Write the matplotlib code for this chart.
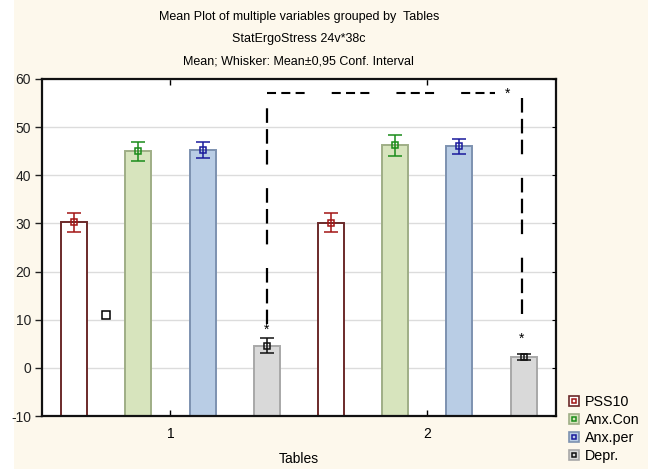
import matplotlib.pyplot as plt
import numpy as np
from matplotlib.lines import Line2D
from matplotlib.patches import Rectangle
from matplotlib.legend_handler import HandlerTuple

plt.rcParams['font.family'] = ['Liberation Sans', 'DejaVu Sans']
plt.rcParams['font.size'] = 9
plt.rcParams['lines.scale_dashes'] = False
plt.rcParams['axes.unicode_minus'] = False

# data
groups = ["1", "2"]
variables = ["PSS10", "Anx.Con", "Anx.per", "Depr."]
means = {
    "PSS10":   [30.3, 30.1],
    "Anx.Con": [45.0, 46.2],
    "Anx.per": [45.3, 46.0],
    "Depr.":   [4.6, 2.2],
}
ci_low = {
    "PSS10":   [28.3, 28.2],
    "Anx.Con": [43.0, 44.1],
    "Anx.per": [43.6, 44.5],
    "Depr.":   [3.0, 1.6],
}
ci_high = {
    "PSS10":   [32.2, 32.1],
    "Anx.Con": [47.0, 48.3],
    "Anx.per": [46.9, 47.5],
    "Depr.":   [6.2, 2.9],
}
extra_x = [0.49]
extra_y = [11.0]

# significance bracket between the two Depr. bars
bracket_y = 57.0
left_leg_bottom = 9.1
right_leg_top = 56.0
right_leg_bottom = 8.5
star_left_y = 8.0
star_top_y = 57.0
star_right_y = 6.0

face = {"PSS10": "#ffffff", "Anx.Con": "#d7e4bd", "Anx.per": "#b9cde5", "Depr.": "#d9d9d9"}
edge = {"PSS10": "#6b2a2a", "Anx.Con": "#9fae86", "Anx.per": "#7d92b0", "Depr.": "#a8a8a8"}
errc = {"PSS10": "#a31515", "Anx.Con": "#1a8c1a", "Anx.per": "#1a1a9c", "Depr.": "#111111"}

fig = plt.figure(figsize=(6.48, 4.70), dpi=100)
fig.patch.set_facecolor("white")
fig.patches.append(Rectangle((14 / 648, 1 / 470), 1, 1, transform=fig.transFigure,
                             facecolor="#fdf8ec", edgecolor="none", zorder=-10))

ax = fig.add_axes([42 / 648, 1 - 416 / 470, (555.7 - 42) / 648, (416 - 79) / 470])
ax.set_facecolor("white")

nvar = len(variables)
width = 26 / 64.2
for g in range(len(groups)):
    for v, name in enumerate(variables):
        x = g * nvar + v
        m = means[name][g]
        ax.bar(x, m + 10, bottom=-10, width=width, color=face[name],
               edgecolor=edge[name], linewidth=1.4, zorder=2)
        ax.errorbar(x, m, yerr=[[m - ci_low[name][g]], [ci_high[name][g] - m]],
                    fmt="s", ms=5, mfc="none", mec=errc[name], mew=1.1,
                    ecolor=errc[name], elinewidth=1.1, capsize=5, capthick=1.1, zorder=3)

ax.plot(extra_x, extra_y, "s", ms=5.5, mfc="white", mec="black", mew=1.1, zorder=3)

# dashed bracket
xl = 3
xr = 6.97
vpat = (10.5, 4.5, 10.5, 4.5, 10.5, 17)
ax.plot([xl, xl], [bracket_y, left_leg_bottom], color="black", lw=1.6,
        linestyle=(46.5, vpat), zorder=4)
ax.plot([xl, 6.55], [bracket_y, bracket_y], color="black", lw=1.5,
        linestyle=(0, (6.5, 3.8, 6.5, 3.8, 6.5, 19.5)), zorder=4)
ax.plot([xr, xr], [right_leg_top, right_leg_bottom], color="black", lw=1.6,
        linestyle=(0, vpat), zorder=4)
ax.text(xl, star_left_y, "*", ha="center", va="center", fontsize=10)
ax.text(6.75, star_top_y, "*", ha="center", va="center", fontsize=10)
ax.text(xr, star_right_y, "*", ha="center", va="center", fontsize=10)

ax.set_xlim(-0.5, 2 * nvar - 0.5)
ax.set_ylim(-10, 60)
ax.set_yticks(np.arange(-10, 61, 10))
ax.set_xticks([(nvar - 1) / 2 + g * nvar for g in range(len(groups))])
ax.set_xticklabels(groups)
ax.yaxis.grid(True, color="#dcdcdc", lw=1)
ax.set_axisbelow(True)
ax.tick_params(axis="y", direction="out", length=5, width=1, pad=3, colors="#222222",
               labelsize=10)
ax.tick_params(axis="x", direction="in", length=4, width=1, top=True, pad=8,
               labelsize=10)
for s in ax.spines.values():
    s.set_linewidth(1.6)
    s.set_color("#111111")

ax2 = ax.twinx()
ax2.set_ylim(-10, 60)
ax2.set_yticks(np.arange(-10, 61, 10))
ax2.tick_params(axis="y", direction="in", length=3, labelright=False)
for s in ax2.spines.values():
    s.set_visible(False)

ax.set_xlabel("Tables", fontsize=10, labelpad=8)

cx = (42 + 555.7) / 2 / 648
fig.text(cx, 1 - 17 / 470, "Mean Plot of multiple variables grouped by  Tables",
         ha="center", va="center", fontsize=9)
fig.text(cx, 1 - 39 / 470, "StatErgoStress 24v*38c", ha="center", va="center", fontsize=9)
fig.text(cx, 1 - 61 / 470, "Mean; Whisker: Mean±0,95 Conf. Interval",
         ha="center", va="center", fontsize=9)

handles = []
for name in variables:
    outer = Line2D([], [], marker="s", ls="none", ms=7.5, mfc=face[name], mec=edge[name], mew=1.2)
    inner = Line2D([], [], marker="s", ls="none", ms=3.5, mfc="none", mec=errc[name], mew=1.1)
    handles.append((outer, inner))
leg = fig.legend(handles, variables, handler_map={tuple: HandlerTuple(ndivide=1, pad=0)},
                 loc="upper left", bbox_to_anchor=(561 / 648, 1 - 388 / 470),
                 frameon=False, fontsize=10.3, handlelength=0.8, handletextpad=0.35,
                 labelspacing=0.28, borderpad=0)

fig.savefig("out.png", dpi=100, facecolor=fig.get_facecolor())
